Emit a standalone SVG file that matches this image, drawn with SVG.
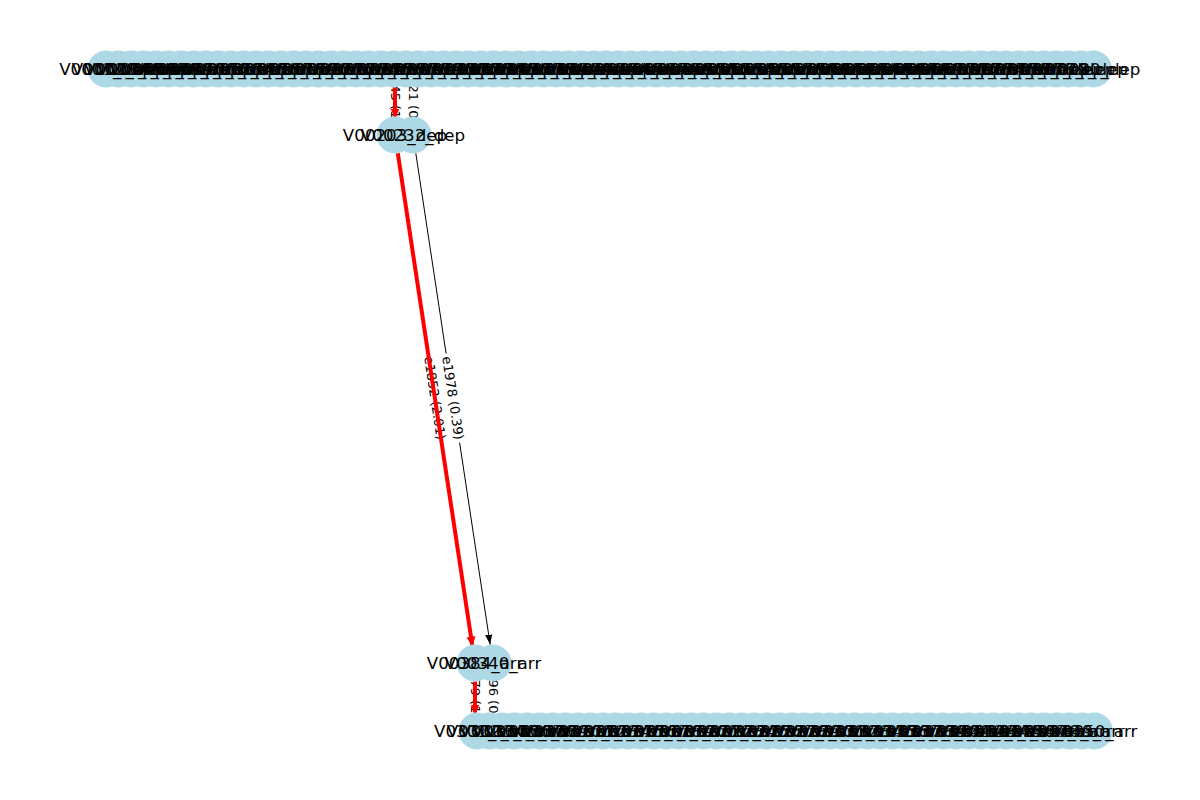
<svg xmlns="http://www.w3.org/2000/svg" xmlns:xlink="http://www.w3.org/1999/xlink" width="1200" height="800" viewBox="0 0 1200 800">
<style>
.n{fill:#add8e6}
.nl{font-family:"DejaVu Sans",sans-serif;font-size:16.7px;fill:#000;text-anchor:middle;dominant-baseline:central}
.el{font-family:"DejaVu Sans",sans-serif;font-size:13px;fill:#000;text-anchor:middle;dominant-baseline:central}
.bb{fill:#fff}
.ek{stroke:#000;stroke-width:1;fill:none}
.er{stroke:#f00;stroke-width:4;fill:none}
</style>
<defs>
<circle id="nc" cx="0" cy="0" r="18.5"/>
<marker id="ak" viewBox="0 0 10 10" refX="10" refY="5" markerWidth="10" markerHeight="10" markerUnits="userSpaceOnUse" orient="auto"><path d="M0,1.5 L10,5 L0,8.5 Z" fill="#000"/></marker>
<marker id="ar" viewBox="0 0 10 10" refX="8" refY="5" markerWidth="10" markerHeight="10" markerUnits="userSpaceOnUse" orient="auto"><path d="M0,0.5 L10,5 L0,9.5 Z" fill="#f00"/></marker>
</defs>
<rect width="1200" height="800" fill="#fff"/>
<g id="edges-black">
<line class="ek" x1="413" y1="87.5" x2="413" y2="116.5" marker-end="url(#ak)"/>
<line class="ek" x1="415.8" y1="153.3" x2="490.2" y2="644.7" marker-end="url(#ak)"/>
<line class="ek" x1="493" y1="681.5" x2="493" y2="712.5" marker-end="url(#ak)"/>
</g>
<g id="edge-labels">
<g transform="translate(395,102) rotate(90)"><rect class="bb" x="-45" y="-9" width="90" height="18" rx="3"/><text class="el">e0245 (1.35)</text></g>
<g transform="translate(413,102) rotate(90)"><rect class="bb" x="-45" y="-9" width="90" height="18" rx="3"/><text class="el">e1021 (0.62)</text></g>
<g transform="translate(434.9,398) rotate(81.4)"><rect class="bb" x="-45" y="-9" width="90" height="18" rx="3"/><text class="el">e1852 (2.01)</text></g>
<g transform="translate(452.9,398) rotate(81.4)"><rect class="bb" x="-45" y="-9" width="90" height="18" rx="3"/><text class="el">e1978 (0.39)</text></g>
<g transform="translate(475,697) rotate(90)"><rect class="bb" x="-45" y="-9" width="90" height="18" rx="3"/><text class="el">e0479 (1.40)</text></g>
<g transform="translate(493,697) rotate(90)"><rect class="bb" x="-45" y="-9" width="90" height="18" rx="3"/><text class="el">e1896 (0.27)</text></g>
</g>
<g id="edges-red">
<line class="er" x1="395" y1="87.5" x2="395" y2="116.5" marker-end="url(#ar)"/>
<line class="er" x1="397.8" y1="153.3" x2="472.2" y2="644.7" marker-end="url(#ar)"/>
<line class="er" x1="475" y1="681.5" x2="475" y2="712.5" marker-end="url(#ar)"/>
</g>
<g id="nodes">
<g id="t00"><use href="#nc" class="n" x="106" y="69"/></g>
<g id="t01"><use href="#nc" class="n" x="118.5" y="69"/></g>
<g id="t02"><use href="#nc" class="n" x="131" y="69"/></g>
<g id="t03"><use href="#nc" class="n" x="143.5" y="69"/></g>
<g id="t04"><use href="#nc" class="n" x="156" y="69"/></g>
<g id="t05"><use href="#nc" class="n" x="168.5" y="69"/></g>
<g id="t06"><use href="#nc" class="n" x="181" y="69"/></g>
<g id="t07"><use href="#nc" class="n" x="193.5" y="69"/></g>
<g id="t08"><use href="#nc" class="n" x="206" y="69"/></g>
<g id="t09"><use href="#nc" class="n" x="218.5" y="69"/></g>
<g id="t10"><use href="#nc" class="n" x="231" y="69"/></g>
<g id="t11"><use href="#nc" class="n" x="243.5" y="69"/></g>
<g id="t12"><use href="#nc" class="n" x="256" y="69"/></g>
<g id="t13"><use href="#nc" class="n" x="268.5" y="69"/></g>
<g id="t14"><use href="#nc" class="n" x="281" y="69"/></g>
<g id="t15"><use href="#nc" class="n" x="293.5" y="69"/></g>
<g id="t16"><use href="#nc" class="n" x="306" y="69"/></g>
<g id="t17"><use href="#nc" class="n" x="318.5" y="69"/></g>
<g id="t18"><use href="#nc" class="n" x="331" y="69"/></g>
<g id="t19"><use href="#nc" class="n" x="343.5" y="69"/></g>
<g id="t20"><use href="#nc" class="n" x="356" y="69"/></g>
<g id="t21"><use href="#nc" class="n" x="368.5" y="69"/></g>
<g id="t22"><use href="#nc" class="n" x="381" y="69"/></g>
<g id="t23"><use href="#nc" class="n" x="393.5" y="69"/></g>
<g id="t24"><use href="#nc" class="n" x="406" y="69"/></g>
<g id="t25"><use href="#nc" class="n" x="418.5" y="69"/></g>
<g id="t26"><use href="#nc" class="n" x="431" y="69"/></g>
<g id="t27"><use href="#nc" class="n" x="443.5" y="69"/></g>
<g id="t28"><use href="#nc" class="n" x="456" y="69"/></g>
<g id="t29"><use href="#nc" class="n" x="468.5" y="69"/></g>
<g id="t30"><use href="#nc" class="n" x="481" y="69"/></g>
<g id="t31"><use href="#nc" class="n" x="493.5" y="69"/></g>
<g id="t32"><use href="#nc" class="n" x="506" y="69"/></g>
<g id="t33"><use href="#nc" class="n" x="518.5" y="69"/></g>
<g id="t34"><use href="#nc" class="n" x="531" y="69"/></g>
<g id="t35"><use href="#nc" class="n" x="543.5" y="69"/></g>
<g id="t36"><use href="#nc" class="n" x="556" y="69"/></g>
<g id="t37"><use href="#nc" class="n" x="568.5" y="69"/></g>
<g id="t38"><use href="#nc" class="n" x="581" y="69"/></g>
<g id="t39"><use href="#nc" class="n" x="593.5" y="69"/></g>
<g id="t40"><use href="#nc" class="n" x="606" y="69"/></g>
<g id="t41"><use href="#nc" class="n" x="618.5" y="69"/></g>
<g id="t42"><use href="#nc" class="n" x="631" y="69"/></g>
<g id="t43"><use href="#nc" class="n" x="643.5" y="69"/></g>
<g id="t44"><use href="#nc" class="n" x="656" y="69"/></g>
<g id="t45"><use href="#nc" class="n" x="668.5" y="69"/></g>
<g id="t46"><use href="#nc" class="n" x="681" y="69"/></g>
<g id="t47"><use href="#nc" class="n" x="693.5" y="69"/></g>
<g id="t48"><use href="#nc" class="n" x="706" y="69"/></g>
<g id="t49"><use href="#nc" class="n" x="718.5" y="69"/></g>
<g id="t50"><use href="#nc" class="n" x="731" y="69"/></g>
<g id="t51"><use href="#nc" class="n" x="743.5" y="69"/></g>
<g id="t52"><use href="#nc" class="n" x="756" y="69"/></g>
<g id="t53"><use href="#nc" class="n" x="768.5" y="69"/></g>
<g id="t54"><use href="#nc" class="n" x="781" y="69"/></g>
<g id="t55"><use href="#nc" class="n" x="793.5" y="69"/></g>
<g id="t56"><use href="#nc" class="n" x="806" y="69"/></g>
<g id="t57"><use href="#nc" class="n" x="818.5" y="69"/></g>
<g id="t58"><use href="#nc" class="n" x="831" y="69"/></g>
<g id="t59"><use href="#nc" class="n" x="843.5" y="69"/></g>
<g id="t60"><use href="#nc" class="n" x="856" y="69"/></g>
<g id="t61"><use href="#nc" class="n" x="868.5" y="69"/></g>
<g id="t62"><use href="#nc" class="n" x="881" y="69"/></g>
<g id="t63"><use href="#nc" class="n" x="893.5" y="69"/></g>
<g id="t64"><use href="#nc" class="n" x="906" y="69"/></g>
<g id="t65"><use href="#nc" class="n" x="918.5" y="69"/></g>
<g id="t66"><use href="#nc" class="n" x="931" y="69"/></g>
<g id="t67"><use href="#nc" class="n" x="943.5" y="69"/></g>
<g id="t68"><use href="#nc" class="n" x="956" y="69"/></g>
<g id="t69"><use href="#nc" class="n" x="968.5" y="69"/></g>
<g id="t70"><use href="#nc" class="n" x="981" y="69"/></g>
<g id="t71"><use href="#nc" class="n" x="993.5" y="69"/></g>
<g id="t72"><use href="#nc" class="n" x="1006" y="69"/></g>
<g id="t73"><use href="#nc" class="n" x="1018.5" y="69"/></g>
<g id="t74"><use href="#nc" class="n" x="1031" y="69"/></g>
<g id="t75"><use href="#nc" class="n" x="1043.5" y="69"/></g>
<g id="t76"><use href="#nc" class="n" x="1056" y="69"/></g>
<g id="t77"><use href="#nc" class="n" x="1068.5" y="69"/></g>
<g id="t78"><use href="#nc" class="n" x="1081" y="69"/></g>
<g id="t79"><use href="#nc" class="n" x="1093.5" y="69"/></g>
<g id="m1"><use href="#nc" class="n" x="395" y="135"/></g>
<g id="m2"><use href="#nc" class="n" x="413" y="135"/></g>
<g id="a1"><use href="#nc" class="n" x="475" y="663"/></g>
<g id="a2"><use href="#nc" class="n" x="493" y="663"/></g>
<g id="b00"><use href="#nc" class="n" x="477" y="731"/></g>
<g id="b01"><use href="#nc" class="n" x="489.6" y="731"/></g>
<g id="b02"><use href="#nc" class="n" x="502.2" y="731"/></g>
<g id="b03"><use href="#nc" class="n" x="514.8" y="731"/></g>
<g id="b04"><use href="#nc" class="n" x="527.4" y="731"/></g>
<g id="b05"><use href="#nc" class="n" x="540" y="731"/></g>
<g id="b06"><use href="#nc" class="n" x="552.6" y="731"/></g>
<g id="b07"><use href="#nc" class="n" x="565.2" y="731"/></g>
<g id="b08"><use href="#nc" class="n" x="577.8" y="731"/></g>
<g id="b09"><use href="#nc" class="n" x="590.4" y="731"/></g>
<g id="b10"><use href="#nc" class="n" x="603" y="731"/></g>
<g id="b11"><use href="#nc" class="n" x="615.6" y="731"/></g>
<g id="b12"><use href="#nc" class="n" x="628.2" y="731"/></g>
<g id="b13"><use href="#nc" class="n" x="640.8" y="731"/></g>
<g id="b14"><use href="#nc" class="n" x="653.4" y="731"/></g>
<g id="b15"><use href="#nc" class="n" x="666" y="731"/></g>
<g id="b16"><use href="#nc" class="n" x="678.6" y="731"/></g>
<g id="b17"><use href="#nc" class="n" x="691.2" y="731"/></g>
<g id="b18"><use href="#nc" class="n" x="703.8" y="731"/></g>
<g id="b19"><use href="#nc" class="n" x="716.4" y="731"/></g>
<g id="b20"><use href="#nc" class="n" x="729" y="731"/></g>
<g id="b21"><use href="#nc" class="n" x="741.6" y="731"/></g>
<g id="b22"><use href="#nc" class="n" x="754.2" y="731"/></g>
<g id="b23"><use href="#nc" class="n" x="766.8" y="731"/></g>
<g id="b24"><use href="#nc" class="n" x="779.4" y="731"/></g>
<g id="b25"><use href="#nc" class="n" x="792" y="731"/></g>
<g id="b26"><use href="#nc" class="n" x="804.6" y="731"/></g>
<g id="b27"><use href="#nc" class="n" x="817.2" y="731"/></g>
<g id="b28"><use href="#nc" class="n" x="829.8" y="731"/></g>
<g id="b29"><use href="#nc" class="n" x="842.4" y="731"/></g>
<g id="b30"><use href="#nc" class="n" x="855" y="731"/></g>
<g id="b31"><use href="#nc" class="n" x="867.6" y="731"/></g>
<g id="b32"><use href="#nc" class="n" x="880.2" y="731"/></g>
<g id="b33"><use href="#nc" class="n" x="892.8" y="731"/></g>
<g id="b34"><use href="#nc" class="n" x="905.4" y="731"/></g>
<g id="b35"><use href="#nc" class="n" x="918" y="731"/></g>
<g id="b36"><use href="#nc" class="n" x="930.6" y="731"/></g>
<g id="b37"><use href="#nc" class="n" x="943.2" y="731"/></g>
<g id="b38"><use href="#nc" class="n" x="955.8" y="731"/></g>
<g id="b39"><use href="#nc" class="n" x="968.4" y="731"/></g>
<g id="b40"><use href="#nc" class="n" x="981" y="731"/></g>
<g id="b41"><use href="#nc" class="n" x="993.6" y="731"/></g>
<g id="b42"><use href="#nc" class="n" x="1006.2" y="731"/></g>
<g id="b43"><use href="#nc" class="n" x="1018.8" y="731"/></g>
<g id="b44"><use href="#nc" class="n" x="1031.4" y="731"/></g>
<g id="b45"><use href="#nc" class="n" x="1044" y="731"/></g>
<g id="b46"><use href="#nc" class="n" x="1056.6" y="731"/></g>
<g id="b47"><use href="#nc" class="n" x="1069.2" y="731"/></g>
<g id="b48"><use href="#nc" class="n" x="1081.8" y="731"/></g>
<g id="b49"><use href="#nc" class="n" x="1094.4" y="731"/></g>
</g>
<g id="node-labels" class="nl">
<text x="106" y="69">V0001_dep</text><text x="118.5" y="69">V0002_dep</text><text x="131" y="69">V0003_dep</text><text x="143.5" y="69">V0004_dep</text><text x="156" y="69">V0005_dep</text><text x="168.5" y="69">V0006_dep</text><text x="181" y="69">V0007_dep</text><text x="193.5" y="69">V0008_dep</text><text x="206" y="69">V0009_dep</text><text x="218.5" y="69">V0010_dep</text>
<text x="231" y="69">V0011_dep</text><text x="243.5" y="69">V0012_dep</text><text x="256" y="69">V0013_dep</text><text x="268.5" y="69">V0014_dep</text><text x="281" y="69">V0015_dep</text><text x="293.5" y="69">V0016_dep</text><text x="306" y="69">V0017_dep</text><text x="318.5" y="69">V0018_dep</text><text x="331" y="69">V0019_dep</text><text x="343.5" y="69">V0020_dep</text>
<text x="356" y="69">V0021_dep</text><text x="368.5" y="69">V0022_dep</text><text x="381" y="69">V0023_dep</text><text x="393.5" y="69">V0024_dep</text><text x="406" y="69">V0025_dep</text><text x="418.5" y="69">V0026_dep</text><text x="431" y="69">V0027_dep</text><text x="443.5" y="69">V0028_dep</text><text x="456" y="69">V0029_dep</text><text x="468.5" y="69">V0030_dep</text>
<text x="481" y="69">V0031_dep</text><text x="493.5" y="69">V0032_dep</text><text x="506" y="69">V0033_dep</text><text x="518.5" y="69">V0034_dep</text><text x="531" y="69">V0035_dep</text><text x="543.5" y="69">V0036_dep</text><text x="556" y="69">V0037_dep</text><text x="568.5" y="69">V0038_dep</text><text x="581" y="69">V0039_dep</text><text x="593.5" y="69">V0040_dep</text>
<text x="606" y="69">V0041_dep</text><text x="618.5" y="69">V0042_dep</text><text x="631" y="69">V0043_dep</text><text x="643.5" y="69">V0044_dep</text><text x="656" y="69">V0045_dep</text><text x="668.5" y="69">V0046_dep</text><text x="681" y="69">V0047_dep</text><text x="693.5" y="69">V0048_dep</text><text x="706" y="69">V0049_dep</text><text x="718.5" y="69">V0050_dep</text>
<text x="731" y="69">V0051_dep</text><text x="743.5" y="69">V0052_dep</text><text x="756" y="69">V0053_dep</text><text x="768.5" y="69">V0054_dep</text><text x="781" y="69">V0055_dep</text><text x="793.5" y="69">V0056_dep</text><text x="806" y="69">V0057_dep</text><text x="818.5" y="69">V0058_dep</text><text x="831" y="69">V0059_dep</text><text x="843.5" y="69">V0060_dep</text>
<text x="856" y="69">V0061_dep</text><text x="868.5" y="69">V0062_dep</text><text x="881" y="69">V0063_dep</text><text x="893.5" y="69">V0064_dep</text><text x="906" y="69">V0065_dep</text><text x="918.5" y="69">V0066_dep</text><text x="931" y="69">V0067_dep</text><text x="943.5" y="69">V0068_dep</text><text x="956" y="69">V0069_dep</text><text x="968.5" y="69">V0070_dep</text>
<text x="981" y="69">V0071_dep</text><text x="993.5" y="69">V0072_dep</text><text x="1006" y="69">V0073_dep</text><text x="1018.5" y="69">V0074_dep</text><text x="1031" y="69">V0075_dep</text><text x="1043.5" y="69">V0076_dep</text><text x="1056" y="69">V0077_dep</text><text x="1068.5" y="69">V0078_dep</text><text x="1081" y="69">V0079_dep</text><text x="1093.5" y="69">V0080_dep</text>
<text x="395" y="135">V00203_dep</text><text x="413" y="135">V00232_dep</text>
<text x="475" y="663">V00384_arr</text><text x="493" y="663">V00340_arr</text>
<text x="477" y="731">V0301_arr</text><text x="489.6" y="731">V0302_arr</text><text x="502.2" y="731">V0303_arr</text><text x="514.8" y="731">V0304_arr</text><text x="527.4" y="731">V0305_arr</text><text x="540" y="731">V0306_arr</text><text x="552.6" y="731">V0307_arr</text><text x="565.2" y="731">V0308_arr</text><text x="577.8" y="731">V0309_arr</text><text x="590.4" y="731">V0310_arr</text>
<text x="603" y="731">V0311_arr</text><text x="615.6" y="731">V0312_arr</text><text x="628.2" y="731">V0313_arr</text><text x="640.8" y="731">V0314_arr</text><text x="653.4" y="731">V0315_arr</text><text x="666" y="731">V0316_arr</text><text x="678.6" y="731">V0317_arr</text><text x="691.2" y="731">V0318_arr</text><text x="703.8" y="731">V0319_arr</text><text x="716.4" y="731">V0320_arr</text>
<text x="729" y="731">V0321_arr</text><text x="741.6" y="731">V0322_arr</text><text x="754.2" y="731">V0323_arr</text><text x="766.8" y="731">V0324_arr</text><text x="779.4" y="731">V0325_arr</text><text x="792" y="731">V0326_arr</text><text x="804.6" y="731">V0327_arr</text><text x="817.2" y="731">V0328_arr</text><text x="829.8" y="731">V0329_arr</text><text x="842.4" y="731">V0330_arr</text>
<text x="855" y="731">V0331_arr</text><text x="867.6" y="731">V0332_arr</text><text x="880.2" y="731">V0333_arr</text><text x="892.8" y="731">V0334_arr</text><text x="905.4" y="731">V0335_arr</text><text x="918" y="731">V0336_arr</text><text x="930.6" y="731">V0337_arr</text><text x="943.2" y="731">V0338_arr</text><text x="955.8" y="731">V0339_arr</text><text x="968.4" y="731">V0340_arr</text>
<text x="981" y="731">V0341_arr</text><text x="993.6" y="731">V0342_arr</text><text x="1006.2" y="731">V0343_arr</text><text x="1018.8" y="731">V0344_arr</text><text x="1031.4" y="731">V0345_arr</text><text x="1044" y="731">V0346_arr</text><text x="1056.6" y="731">V0347_arr</text><text x="1069.2" y="731">V0348_arr</text><text x="1081.8" y="731">V0349_arr</text><text x="1094.4" y="731">V0350_arr</text>
</g>
</svg>
